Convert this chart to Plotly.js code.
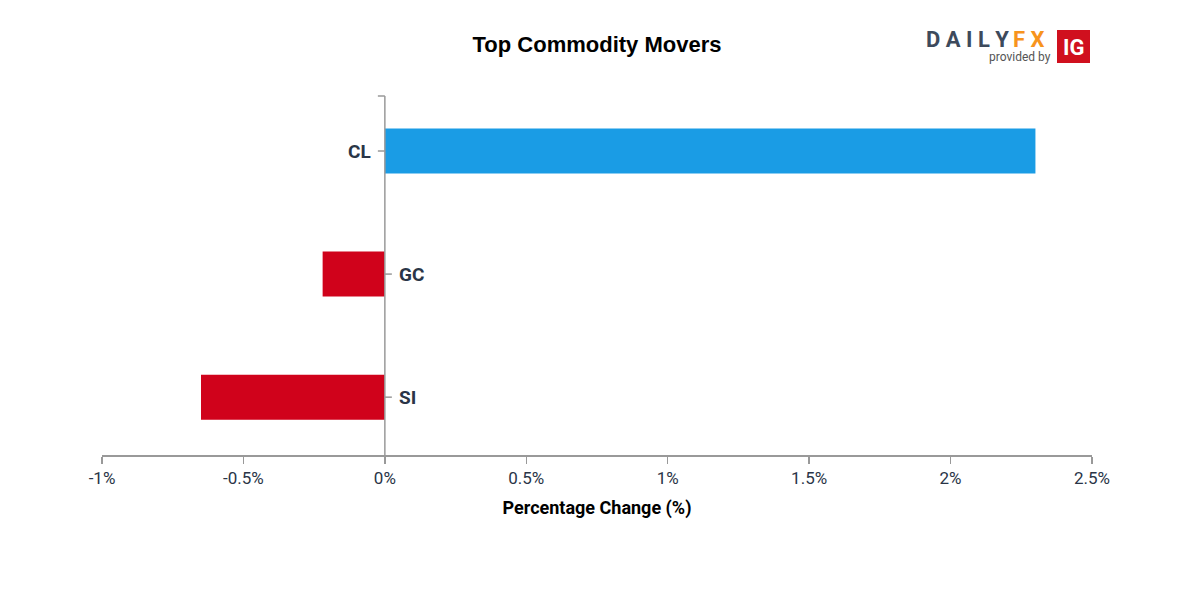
<!DOCTYPE html>
<html>
<head>
<meta charset="utf-8">
<script src="https://cdn.plot.ly/plotly-3.0.1.min.js"></script>
<style>html,body{margin:0;padding:0;background:#fff;}#chart{width:1200px;height:600px;}</style>
</head>
<body>
<div id="chart"></div>
<script>
// Data
const categories = ["SI", "GC", "CL"];
const changes = [-0.65, -0.22, 2.30];
const tickValues = [-1, -0.5, 0, 0.5, 1, 1.5, 2, 2.5];
const tickLabels = ["-1%", "-0.5%", "0%", "0.5%", "1%", "1.5%", "2%", "2.5%"];

const POS = "#1a9ce5", NEG = "#d0021b";
const axisColor = "#999999";
const labelColor = "#2a3547";

// plot-area geometry helpers (paper coords relative to plot area)
const PL = 102, PR = 1092, PT = 96, PB = 455;
const px = x => (x - PL) / (PR - PL);
const py = y => (PB - y) / (PB - PT);

const trace = {
  type: "bar",
  orientation: "h",
  y: categories,
  x: changes,
  width: 0.366,
  marker: {
    color: changes.map(v => v >= 0 ? POS : NEG),
    line: {width: 0}
  },
  hoverinfo: "x+y"
};

const shapes = [
  {type: "line", xref: "x", yref: "paper", x0: 0, x1: 0, y0: 0, y1: 1,
   line: {color: axisColor, width: 1.5}},
  {type: "line", xref: "x", yref: "paper", xsizemode: "pixel", xanchor: 0,
   x0: -7, x1: 0, y0: 1, y1: 1, line: {color: axisColor, width: 1.5}},
  // IG logo box
  {type: "rect", xref: "paper", yref: "paper", x0: px(1057), x1: px(1090),
   y0: py(63), y1: py(30), fillcolor: "#d0101e", line: {width: 0}}
];

const annotations = [];
categories.forEach((c, i) => {
  const pos = changes[i] >= 0;
  shapes.push({type: "line", xref: "x", yref: "y", xsizemode: "pixel", xanchor: 0,
    x0: pos ? -7 : 0, x1: pos ? 0 : 7, y0: c, y1: c,
    line: {color: axisColor, width: 1.5}});
  annotations.push({x: 0, y: c, xref: "x", yref: "y", text: "<b>" + c + "</b>",
    showarrow: false, xanchor: pos ? "right" : "left", xshift: pos ? -12 : 12,
    font: {family: "Roboto, sans-serif", size: 19, color: labelColor}});
});

// logo
annotations.push({xref: "paper", yref: "paper", x: px(1011), y: py(40), xanchor: "right", yanchor: "middle",
  text: "<b>D A I L Y</b>", showarrow: false,
  font: {family: "Roboto, sans-serif", size: 22, color: "#3d4a5c"}});
annotations.push({xref: "paper", yref: "paper", x: px(1011), y: py(40), xanchor: "left", yanchor: "middle",
  text: "<b>F X</b>", showarrow: false,
  font: {family: "Roboto, sans-serif", size: 22, color: "#f7941d"}});
annotations.push({xref: "paper", yref: "paper", x: px(1053), y: py(57), xanchor: "right", yanchor: "middle",
  text: "provided by", showarrow: false,
  font: {family: "Roboto, sans-serif", size: 12, color: "#555555"}});
annotations.push({xref: "paper", yref: "paper", x: px(1073.5), y: py(47), xanchor: "center", yanchor: "middle",
  text: "<b>IG</b>", showarrow: false,
  font: {family: "Roboto, sans-serif", size: 22, color: "#ffffff"}});

const layout = {
  width: 1200, height: 600,
  paper_bgcolor: "#ffffff", plot_bgcolor: "#ffffff",
  margin: {l: 102, r: 108, t: 96, b: 145},
  showlegend: false,
  title: {text: "<b>Top Commodity Movers</b>", x: 0.4975, xanchor: "center", y: 1 - 44/600, yanchor: "middle",
    font: {family: "Liberation Sans, Arial, sans-serif", size: 22, color: "#000000"}},
  xaxis: {
    range: [-1, 2.5], tickvals: tickValues, ticktext: tickLabels,
    showgrid: false, zeroline: false, showline: true, linecolor: axisColor, linewidth: 1.5,
    ticks: "outside", ticklen: 7, tickwidth: 1.5, tickcolor: axisColor,
    tickfont: {family: "Roboto, sans-serif", size: 17, color: labelColor},
    title: {text: "<b>Percentage Change (%)</b>", standoff: 14,
      font: {family: "Roboto, sans-serif", size: 18, color: "#000000"}},
    fixedrange: true
  },
  yaxis: {
    type: "category", range: [-0.47, 2.447], showticklabels: false, showgrid: false,
    zeroline: false, showline: false, ticks: "", fixedrange: true
  },
  shapes: shapes,
  annotations: annotations,
  bargap: 0.6
};

Plotly.newPlot("chart", [trace], layout, {displayModeBar: false, staticPlot: true});
</script>
</body>
</html>
